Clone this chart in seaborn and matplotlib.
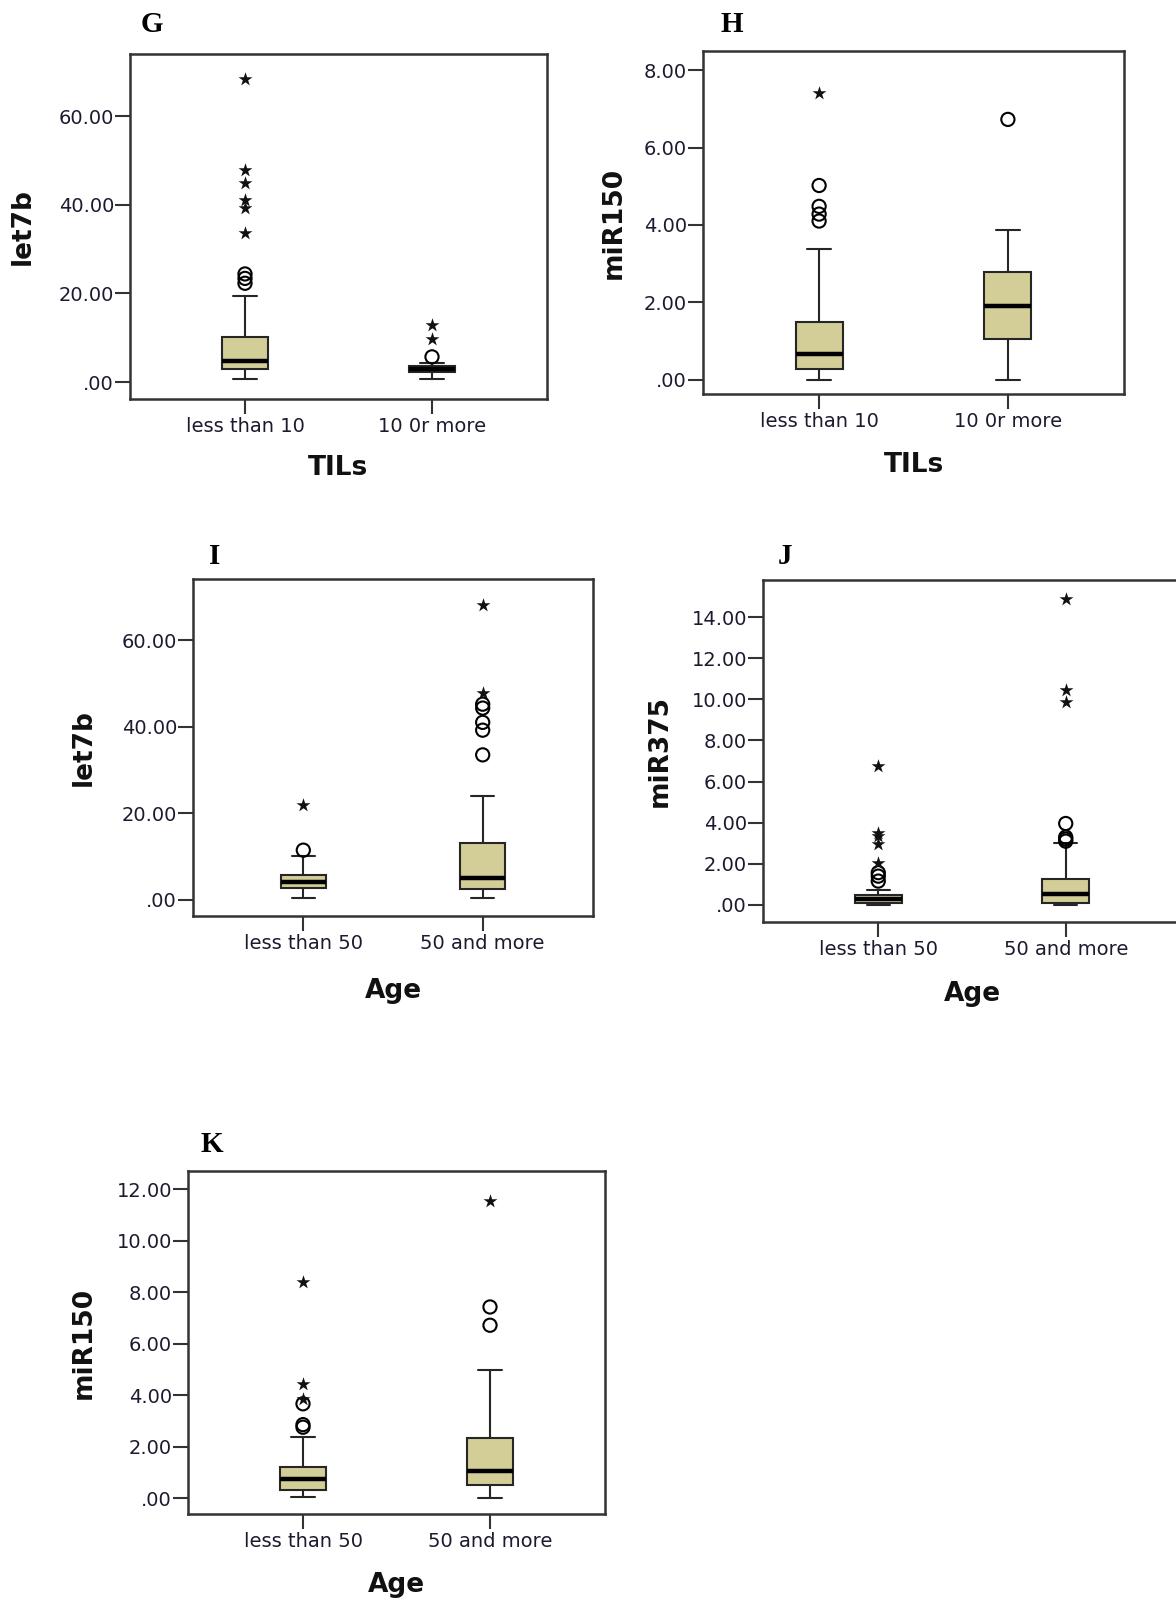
import numpy as np
import pandas as pd
import matplotlib
matplotlib.use("Agg")
import matplotlib.pyplot as plt
from matplotlib.ticker import FuncFormatter, FixedLocator
import seaborn as sns

# ---------------- data ----------------
TILS_CATS = ["less than 10", "10 0r more"]
AGE_CATS = ["less than 50", "50 and more"]

# box statistics: [lower whisker, Q1, median, Q3, upper whisker]
G_BOX_A = [0.6, 3.0, 4.8, 10.2, 19.5]
G_BOX_B = [0.6, 2.2, 2.9, 3.7, 4.3]
G_CIRC_A = [22.3, 23.4, 24.4]
G_CIRC_B = [5.7]
G_STAR_A = [68.3, 47.9, 44.9, 41.1, 39.2, 33.6]
G_STAR_B = [12.8, 9.8]

H_BOX_A = [0.0, 0.26, 0.67, 1.49, 3.37]
H_BOX_B = [0.0, 1.06, 1.90, 2.78, 3.86]
H_CIRC_A = [5.02, 4.48, 4.28, 4.10]
H_CIRC_B = [6.73]
H_STAR_A = [7.41]
H_STAR_B = []

I_BOX_A = [0.4, 2.85, 4.2, 5.7, 10.2]
I_BOX_B = [0.4, 2.5, 5.0, 13.1, 23.9]
I_CIRC_A = [11.5]
I_CIRC_B = [45.2, 44.3, 41.0, 39.2, 33.5]
I_STAR_A = [22.0]
I_STAR_B = [68.2, 47.8]

J_BOX_A = [0.0, 0.08, 0.28, 0.47, 0.75]
J_BOX_B = [0.0, 0.10, 0.55, 1.25, 3.0]
J_CIRC_A = [1.16, 1.40, 1.57]
J_CIRC_B = [3.96, 3.30, 3.20, 3.10]
J_STAR_A = [6.75, 3.51, 3.35, 2.94, 2.05]
J_STAR_B = [14.9, 10.45, 9.85]

K_BOX_A = [0.04, 0.33, 0.72, 1.20, 2.36]
K_BOX_B = [0.0, 0.52, 1.04, 2.33, 4.98]
K_CIRC_A = [2.75, 2.85, 3.66]
K_CIRC_B = [7.42, 6.71]
K_STAR_A = [8.39, 4.44, 3.85]
K_STAR_B = [11.54]

G_YTICKS = [0, 20, 40, 60]
H_YTICKS = [0, 2, 4, 6, 8]
I_YTICKS = [0, 20, 40, 60]
J_YTICKS = [0, 2, 4, 6, 8, 10, 12, 14]
K_YTICKS = [0, 2, 4, 6, 8, 10, 12]

# ---------------- style ----------------
W, H = 1176, 1603
DPI = 100
BOX_FILL = "#d3ce97"
LINE_DARK = "#262626"
TICK_TXT = "#1b1b30"

sns.set_theme(style="ticks")
plt.rcParams.update({
    "font.family": ["DejaVu Sans"],
    "axes.edgecolor": "#333333",
    "axes.linewidth": 1.8,
    "xtick.major.size": 10.5,
    "ytick.major.size": 10.5,
    "xtick.major.width": 1.5,
    "ytick.major.width": 1.5,
    "xtick.color": "#333333",
    "ytick.color": "#333333",
    "xtick.labelcolor": TICK_TXT,
    "ytick.labelcolor": TICK_TXT,
    "xtick.labelsize": 14,
    "ytick.labelsize": 14,
    "xtick.major.pad": 2.5,
    "ytick.major.pad": 1,
    "axes.facecolor": "white",
    "figure.facecolor": "white",
})

fig = plt.figure(figsize=(W / DPI, H / DPI), dpi=DPI)


def fmt(v, pos):
    return ("%.2f" % v).lstrip("0") if v == 0 else "%.2f" % v


def panel(rect, cats, box_a, box_b, circ_a, circ_b, star_a, star_b,
          yticks, ylim, ylabel, xlabel, letter, ylab_off, xlab_off, letter_xy):
    left, top, right, bottom = rect
    ax = fig.add_axes([left / W, 1 - bottom / H, (right - left) / W, (bottom - top) / H])

    box_df = pd.DataFrame({
        "group": [cats[0]] * len(box_a) + [cats[1]] * len(box_b),
        "value": list(box_a) + list(box_b),
    })
    sns.boxplot(data=box_df, x="group", y="value", order=cats, whis=(0, 100),
                showfliers=False, width=0.25, color=BOX_FILL, saturation=1,
                linecolor=LINE_DARK, linewidth=1.5,
                medianprops=dict(color="black", linewidth=3.2),
                ax=ax)

    circ_df = pd.DataFrame({
        "group": [cats[0]] * len(circ_a) + [cats[1]] * len(circ_b),
        "value": list(circ_a) + list(circ_b),
    })
    if len(circ_df):
        sns.stripplot(data=circ_df, x="group", y="value", order=cats, jitter=False,
                      marker="o", size=9.5, facecolor="none", edgecolor="black",
                      linewidth=1.5, color="black", ax=ax, zorder=4)
    star_df = pd.DataFrame({
        "group": [cats[0]] * len(star_a) + [cats[1]] * len(star_b),
        "value": list(star_a) + list(star_b),
    })
    if len(star_df):
        sns.stripplot(data=star_df, x="group", y="value", order=cats, jitter=False,
                      marker="*", size=10.5, color="#111111", linewidth=0,
                      ax=ax, zorder=4)

    ax.set_xlim(-0.615, 1.615)
    ax.set_ylim(*ylim)
    ax.yaxis.set_major_locator(FixedLocator(yticks))
    ax.yaxis.set_major_formatter(FuncFormatter(fmt))
    ax.set_xlabel("")
    ax.set_ylabel("")
    for s in ax.spines.values():
        s.set_visible(True)
        s.set_color("#333333")
        s.set_linewidth(1.8)

    # axis labels
    fig.text((left - ylab_off) / W, 1 - ((top + bottom) / 2) / H, ylabel,
             rotation=90, ha="center", va="center", fontsize=19,
             fontweight="bold", color="#111111")
    fig.text(((left + right) / 2) / W, 1 - (bottom + xlab_off) / H, xlabel,
             ha="center", va="center", fontsize=19, fontweight="bold",
             color="#111111")
    fig.text(letter_xy[0] / W, 1 - letter_xy[1] / H, letter, ha="center",
             va="center", fontsize=21, fontweight="bold",
             family=["Liberation Serif", "DejaVu Serif"], color="black")
    return ax


panel((130, 54, 547, 399), TILS_CATS, G_BOX_A, G_BOX_B, G_CIRC_A, G_CIRC_B,
      G_STAR_A, G_STAR_B, G_YTICKS, (-3.8, 74.0), "let7b", "TILs", "G",
      107, 69, (152, 24))
panel((703, 51, 1124, 394), TILS_CATS, H_BOX_A, H_BOX_B, H_CIRC_A, H_CIRC_B,
      H_STAR_A, H_STAR_B, H_YTICKS, (-0.375, 8.5), "miR150", "TILs", "H",
      89.5, 71, (732, 24))
panel((193, 579, 593, 916), AGE_CATS, I_BOX_A, I_BOX_B, I_CIRC_A, I_CIRC_B,
      I_STAR_A, I_STAR_B, I_YTICKS, (-3.7, 74.1), "let7b", "Age", "I",
      109, 75, (215, 557))
panel((763, 580, 1181, 922), AGE_CATS, J_BOX_A, J_BOX_B, J_CIRC_A, J_CIRC_B,
      J_STAR_A, J_STAR_B, J_YTICKS, (-0.83, 15.8), "miR375", "Age", "J",
      103, 72, (785, 557))
panel((188, 1171, 605, 1514), AGE_CATS, K_BOX_A, K_BOX_B, K_CIRC_A, K_CIRC_B,
      K_STAR_A, K_STAR_B, K_YTICKS, (-0.62, 12.7), "miR150", "Age", "K",
      104, 71, (212, 1145))

fig.savefig("out.png", dpi=DPI)
